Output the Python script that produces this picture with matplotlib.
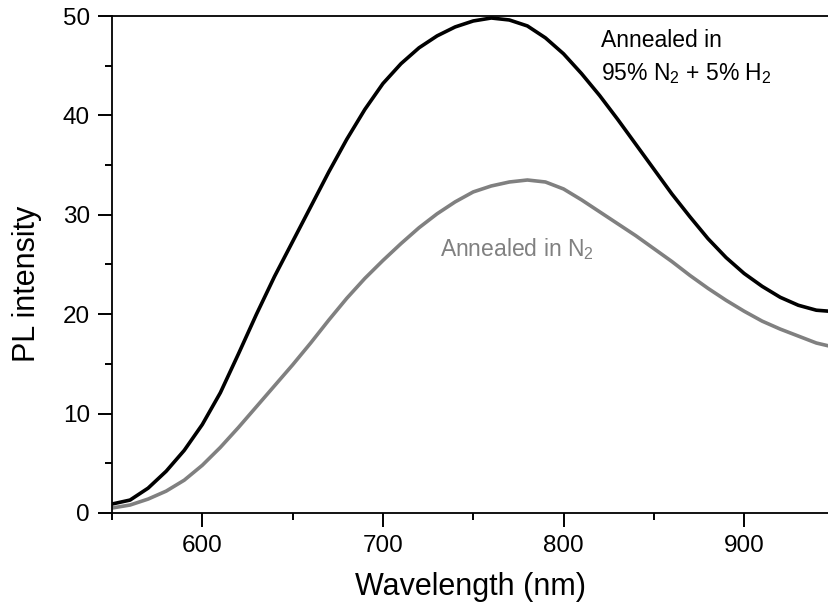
import matplotlib.pyplot as plt
import numpy as np
from matplotlib.ticker import MultipleLocator

plt.rcParams['font.family'] = ['Liberation Sans', 'DejaVu Sans']
plt.rcParams['mathtext.fontset'] = 'custom'
plt.rcParams['mathtext.rm'] = 'Liberation Sans'
plt.rcParams['mathtext.it'] = 'Liberation Sans'

# wavelength (nm)
wl = [550, 560, 570, 580, 590, 600, 610, 620, 630, 640, 650, 660, 670, 680, 690,
      700, 710, 720, 730, 740, 750, 760, 770, 780, 790, 800, 810, 820, 830, 840,
      850, 860, 870, 880, 890, 900, 910, 920, 930, 940, 947]

# annealed in 95% N2 + 5% H2
pl_h2 = [0.9, 1.3, 2.5, 4.2, 6.3, 8.9, 12.1, 16.0, 20.0, 23.8, 27.3, 30.8, 34.3, 37.6, 40.6,
         43.2, 45.2, 46.8, 48.0, 48.9, 49.5, 49.8, 49.6, 49.0, 47.8, 46.2, 44.2, 42.0, 39.6, 37.1,
         34.6, 32.1, 29.8, 27.6, 25.7, 24.1, 22.8, 21.7, 20.9, 20.4, 20.3]

# annealed in N2
pl_n2 = [0.5, 0.8, 1.4, 2.2, 3.3, 4.8, 6.6, 8.6, 10.7, 12.8, 14.9, 17.1, 19.4, 21.6, 23.6,
         25.4, 27.1, 28.7, 30.1, 31.3, 32.3, 32.9, 33.3, 33.5, 33.3, 32.6, 31.5, 30.3, 29.1, 27.9,
         26.6, 25.3, 23.9, 22.6, 21.4, 20.3, 19.3, 18.5, 17.8, 17.1, 16.8]

fig = plt.figure(figsize=(8.29, 6.04), dpi=100)
ax = fig.add_axes([0.1351, 0.1507, 0.8649, 0.8228])

ax.plot(wl, pl_h2, color='black', lw=2.6)
ax.plot(wl, pl_n2, color='#808080', lw=2.6)

ax.set_xlim(550, 947)
ax.set_ylim(0, 50)
ax.xaxis.set_major_locator(MultipleLocator(100))
ax.xaxis.set_minor_locator(MultipleLocator(50))
ax.yaxis.set_major_locator(MultipleLocator(10))
ax.yaxis.set_minor_locator(MultipleLocator(5))
ax.tick_params(which='major', direction='out', length=10, width=1.4, labelsize=17.5, pad=6)
ax.tick_params(which='minor', direction='out', length=5, width=1.4)
ax.spines['right'].set_visible(False)
for s in ['left', 'bottom', 'top']:
    ax.spines[s].set_linewidth(1.3)

ax.set_xlabel('Wavelength (nm)', fontsize=22, labelpad=11)
ax.set_ylabel('PL intensity', fontsize=22)
ax.yaxis.set_label_coords(-0.097, 0.462)

ax.text(821, 46.9, 'Annealed in', fontsize=16.5, va='baseline')
ax.text(821, 43.6, '95% N$_2$ + 5% H$_2$', fontsize=16.5, va='baseline')
ax.text(731.5, 25.8, 'Annealed in N$_2$', fontsize=16.5, va='baseline', color='#808080')

plt.savefig('out.png', dpi=100)
